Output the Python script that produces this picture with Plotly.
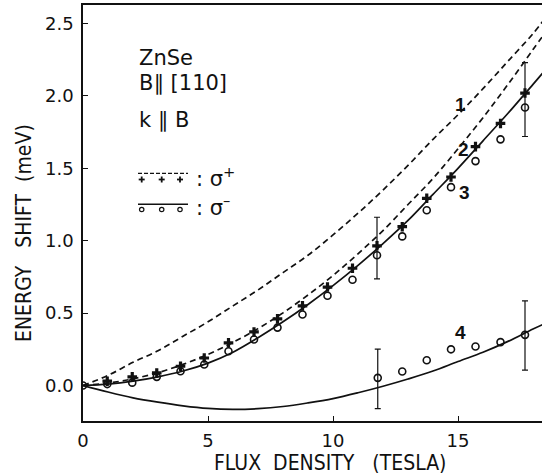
import plotly.graph_objects as go

# ---- data ----
curve_x = [0, 1, 2, 3, 4, 5, 6, 7, 8, 9, 10, 11, 12, 13, 14, 15, 16, 17, 18, 18.5]
curve1 = [0, 0.07, 0.16, 0.24, 0.34, 0.44, 0.55, 0.66, 0.78, 0.90, 1.04, 1.19, 1.35, 1.52, 1.70, 1.87, 2.05, 2.24, 2.43, 2.54]
curve2 = [0, 0.017, 0.046, 0.089, 0.146, 0.215, 0.298, 0.393, 0.502, 0.625, 0.76, 0.91, 1.07, 1.25, 1.43, 1.635, 1.85, 2.08, 2.32, 2.44]
curve3 = [0, 0.01, 0.03, 0.06, 0.10, 0.155, 0.23, 0.33, 0.44, 0.56, 0.69, 0.83, 0.98, 1.14, 1.32, 1.50, 1.69, 1.88, 2.08, 2.18]
curve4 = [0, -0.045, -0.085, -0.115, -0.14, -0.158, -0.165, -0.16, -0.145, -0.12, -0.09, -0.05, -0.005, 0.045, 0.10, 0.166, 0.23, 0.305, 0.39, 0.43]

plus_x = [0.97, 1.97, 2.95, 3.9, 4.85, 5.82, 6.84, 7.78, 8.78, 9.78, 10.78, 11.76, 12.77, 13.75, 14.72, 15.7, 16.7, 17.68]
plus_y = [0.03, 0.06, 0.087, 0.133, 0.19, 0.295, 0.37, 0.46, 0.55, 0.68, 0.81, 0.965, 1.097, 1.293, 1.44, 1.65, 1.81, 2.02]

minus_x = [0, 0.97, 1.97, 2.95, 3.9, 4.85, 5.82, 6.84, 7.78, 8.78, 9.78, 10.78, 11.76, 12.77, 13.75, 14.72, 15.7, 16.7, 17.68]
minus_y = [0, 0.01, 0.02, 0.06, 0.099, 0.145, 0.237, 0.318, 0.40, 0.49, 0.62, 0.73, 0.90, 1.03, 1.21, 1.37, 1.55, 1.70, 1.92]

low_x = [11.79, 12.77, 13.75, 14.72, 15.7, 16.7, 17.68]
low_y = [0.053, 0.097, 0.175, 0.25, 0.27, 0.30, 0.35]

err_x = [11.76, 17.68, 11.79, 17.68]
err_lo = [0.737, 1.72, -0.159, 0.106]
err_hi = [1.162, 2.23, 0.251, 0.585]

curve_labels = ["1", "2", "3", "4"]
label_x = [15.08, 15.22, 15.24, 15.09]
label_y = [1.94, 1.63, 1.335, 0.367]

x_ticks = [0, 5, 10, 15]
y_ticks = [0.0, 0.5, 1.0, 1.5, 2.0, 2.5]
y_ticktext = ["0.0", "0.5", "1.0", "1.5", "2.0", "2.5"]

# ---- figure ----
INK = "#111111"
TICKFONT = dict(family="DejaVu Sans", size=18, color=INK)
TITLEFONT = dict(family="Liberation Sans Narrow, DejaVu Sans Condensed, Liberation Sans", size=21, color=INK)
TEXTFONT = dict(family="DejaVu Sans", size=21, color=INK)

fig = go.Figure()

fig.add_trace(go.Scatter(x=curve_x, y=curve1, mode="lines", line=dict(color=INK, width=1.7, dash="6px,4px", shape="spline"), hoverinfo="skip"))
fig.add_trace(go.Scatter(x=curve_x, y=curve2, mode="lines", line=dict(color=INK, width=1.7, dash="6px,4px", shape="spline"), hoverinfo="skip"))
fig.add_trace(go.Scatter(x=curve_x, y=curve3, mode="lines", line=dict(color=INK, width=1.7, shape="spline"), hoverinfo="skip"))
fig.add_trace(go.Scatter(x=curve_x, y=curve4, mode="lines", line=dict(color=INK, width=1.7, shape="spline"), hoverinfo="skip"))

err_mid = [(a + b) / 2 for a, b in zip(err_lo, err_hi)]
err_half = [(b - a) / 2 for a, b in zip(err_lo, err_hi)]
fig.add_trace(go.Scatter(x=err_x, y=err_mid, mode="markers", marker=dict(size=1, color="rgba(0,0,0,0)"),
                         error_y=dict(type="data", array=err_half, visible=True, color=INK, thickness=1.2, width=3)))

fig.add_trace(go.Scatter(x=plus_x, y=plus_y, mode="markers",
                         marker=dict(symbol="cross", size=8, color=INK, line=dict(width=0))))
fig.add_trace(go.Scatter(x=minus_x, y=minus_y, mode="markers",
                         marker=dict(symbol="circle-open", size=7, color=INK, line=dict(width=1.6))))
fig.add_trace(go.Scatter(x=low_x, y=low_y, mode="markers",
                         marker=dict(symbol="circle-open", size=7, color=INK, line=dict(width=1.6))))

for t, lx, ly in zip(curve_labels, label_x, label_y):
    fig.add_annotation(x=lx, y=ly, xref="x", yref="y", text="<b>%s</b>" % t, showarrow=False,
                       font=dict(family="Liberation Sans", size=19, color=INK))


def px(x):
    return (x - 83) / 459


def py(y):
    return (421 - y) / 416


# text block
for txt, yy in [("ZnSe", 58), ("B\u2225 [110]", 83), ("k \u2225 B", 120)]:
    fig.add_annotation(x=px(137), y=py(yy), xref="paper", yref="paper", text=txt,
                       showarrow=False, xanchor="left", yanchor="middle", font=TEXTFONT)

# legend samples
fig.add_shape(type="line", xref="paper", yref="paper", x0=px(138), x1=px(188), y0=py(173.3), y1=py(173.3),
              line=dict(color=INK, width=1.3, dash="4px,2px"))
fig.add_shape(type="line", xref="paper", yref="paper", x0=px(138), x1=px(188), y0=py(204.3), y1=py(204.3),
              line=dict(color=INK, width=1.4))
for sx in [141.7, 161.7, 180]:
    fig.add_shape(type="line", xref="paper", yref="paper", xsizemode="pixel", ysizemode="pixel",
                  xanchor=px(sx), yanchor=py(179.5), x0=-3, x1=3, y0=0, y1=0, line=dict(color=INK, width=1.8))
    fig.add_shape(type="line", xref="paper", yref="paper", xsizemode="pixel", ysizemode="pixel",
                  xanchor=px(sx), yanchor=py(179.5), x0=0, x1=0, y0=-3, y1=3, line=dict(color=INK, width=1.8))
    fig.add_shape(type="circle", xref="paper", yref="paper", xsizemode="pixel", ysizemode="pixel",
                  xanchor=px(sx), yanchor=py(209.5), x0=-2.2, x1=2.2, y0=-2.2, y1=2.2, line=dict(color=INK, width=1.2))
fig.add_annotation(x=px(194), y=py(177), xref="paper", yref="paper", text=": \u03c3<sup>+</sup>", showarrow=False,
                   xanchor="left", yanchor="middle", font=TEXTFONT)
fig.add_annotation(x=px(194), y=py(206), xref="paper", yref="paper", text=": \u03c3<sup>\u2013</sup>", showarrow=False,
                   xanchor="left", yanchor="middle", font=TEXTFONT)

# axis titles
fig.add_annotation(x=px(330), y=py(463), xref="paper", yref="paper",
                   text="FLUX\u00a0 DENSITY\u00a0\u00a0 (TESLA)", showarrow=False,
                   xanchor="center", yanchor="middle", font=TITLEFONT)
fig.add_annotation(x=px(24), y=py(233), xref="paper", yref="paper",
                   text="ENERGY\u00a0\u00a0 SHIFT\u00a0 (meV)", showarrow=False, textangle=-90,
                   xanchor="center", yanchor="middle", font=TITLEFONT)

fig.update_layout(
    width=542, height=476,
    margin=dict(l=83, r=0, t=5, b=55),
    paper_bgcolor="white", plot_bgcolor="white",
    showlegend=False,
    xaxis=dict(range=[0, 18.36], tickvals=x_ticks, ticktext=[str(v) for v in x_ticks],
               ticks="inside", ticklen=5, tickwidth=1.2, tickcolor=INK,
               showline=True, linecolor=INK, linewidth=1.5, mirror=True,
               showgrid=False, zeroline=False, tickfont=TICKFONT, ticklabelstandoff=3),
    yaxis=dict(range=[-0.245, 2.628], tickvals=y_ticks, ticktext=y_ticktext,
               ticks="inside", ticklen=5, tickwidth=1.2, tickcolor=INK,
               showline=True, linecolor=INK, linewidth=1.5,
               showgrid=False, zeroline=False, tickfont=TICKFONT, ticklabelstandoff=4),
)

fig.write_html("out.html")
